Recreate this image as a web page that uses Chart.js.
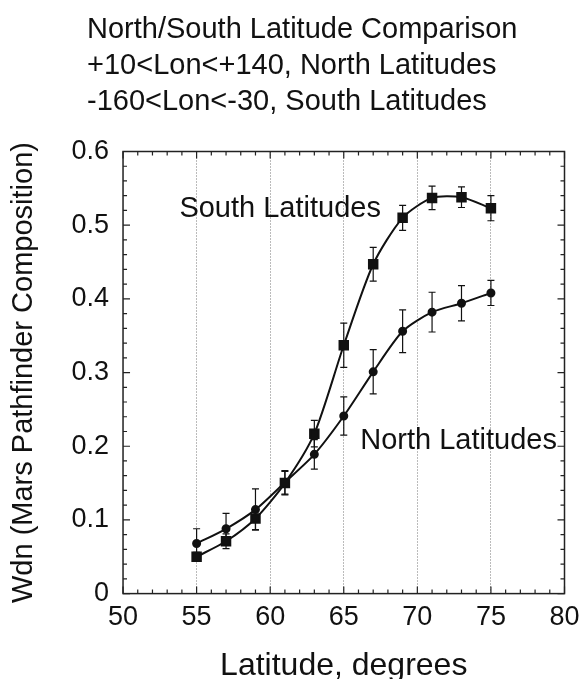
<!DOCTYPE html>
<html>
<head>
<meta charset="utf-8">
<script src="https://cdn.jsdelivr.net/npm/chart.js@4.4.1/dist/chart.umd.min.js"></script>
<style>
  html, body { margin: 0; padding: 0; background: #fff; }
  #wrap { width: 585px; height: 679px; }
</style>
</head>
<body>
<div id="wrap"><canvas id="myChart1"></canvas></div>
<script>
// latitude (degrees) of each bin
const latitudes = [55, 57, 59, 61, 63, 65, 67, 69, 71, 73, 75];
// Wdn for the south latitude set (-160<Lon<-30) and its error
const south = [0.050, 0.071, 0.102, 0.150, 0.217, 0.337, 0.447, 0.510, 0.537, 0.538, 0.523];
const southErr = [0.006, 0.010, 0.015, 0.016, 0.018, 0.030, 0.023, 0.017, 0.016, 0.014, 0.017];
// Wdn for the north latitude set (+10<Lon<+140) and its error
const north = [0.068, 0.088, 0.114, 0.151, 0.189, 0.241, 0.301, 0.356, 0.382, 0.394, 0.408];
const northErr = [0.020, 0.021, 0.028, 0.016, 0.020, 0.026, 0.030, 0.029, 0.027, 0.024, 0.017];

const titleLines = [
    'North/South Latitude Comparison',
    '+10<Lon<+140, North Latitudes',
    '-160<Lon<-30, South Latitudes'
];
const xLabel = 'Latitude, degrees';
const yLabel = 'Wdn (Mars Pathfinder Composition)';
const seriesNames = ['South Latitudes', 'North Latitudes'];

const FONT = "'Liberation Sans', Arial, sans-serif";

// title drawn in the top margin, left aligned
const titlePlugin = {
    id: 'leftTitle',
    afterDraw(chart) {
        const ctx = chart.ctx;
        ctx.save();
        ctx.fillStyle = '#111';
        ctx.font = '29px ' + FONT;
        ctx.textAlign = 'left';
        ctx.textBaseline = 'alphabetic';
        titleLines.forEach((t, i) => ctx.fillText(t, 87, 38 + i * 36));
        ctx.restore();
    }
};

// vertical error bars with small caps
const errorBarPlugin = {
    id: 'errorBars',
    beforeDatasetsDraw(chart) {
        const ctx = chart.ctx;
        const xs = chart.scales.x, ys = chart.scales.y;
        ctx.save();
        ctx.strokeStyle = '#111';
        ctx.lineWidth = 1.2;
        chart.data.datasets.forEach(ds => {
            if (!ds.errorBars) return;
            ds.data.forEach((p, i) => {
                const e = ds.errorBars[i];
                const x = xs.getPixelForValue(p.x);
                const y1 = ys.getPixelForValue(p.y - e);
                const y2 = ys.getPixelForValue(p.y + e);
                ctx.beginPath();
                ctx.moveTo(x, y1); ctx.lineTo(x, y2);
                ctx.moveTo(x - 3.5, y1); ctx.lineTo(x + 3.5, y1);
                ctx.moveTo(x - 3.5, y2); ctx.lineTo(x + 3.5, y2);
                ctx.stroke();
            });
        });
        ctx.restore();
    }
};

// box frame with inward major/minor ticks, plus the curve labels
const framePlugin = {
    id: 'frame',
    afterDraw(chart) {
        const ctx = chart.ctx;
        const xs = chart.scales.x, ys = chart.scales.y;
        const a = chart.chartArea;
        ctx.save();
        ctx.strokeStyle = '#222';
        ctx.lineWidth = 1.5;
        ctx.strokeRect(a.left, a.top, a.right - a.left, a.bottom - a.top);
        ctx.lineWidth = 1.2;
        ctx.beginPath();
        for (let v = xs.min; v <= xs.max; v += 1) {
            const len = v % 5 === 0 ? 7 : 4;
            const x = xs.getPixelForValue(v);
            ctx.moveTo(x, a.bottom); ctx.lineTo(x, a.bottom - len);
            ctx.moveTo(x, a.top); ctx.lineTo(x, a.top + len);
        }
        for (let k = 0; k <= 30; k++) {
            const len = k % 5 === 0 ? 7 : 4;
            const y = ys.getPixelForValue(k * 0.02);
            ctx.moveTo(a.left, y); ctx.lineTo(a.left + len, y);
            ctx.moveTo(a.right, y); ctx.lineTo(a.right - len, y);
        }
        ctx.stroke();

        ctx.fillStyle = '#111';
        ctx.font = '29px ' + FONT;
        ctx.textAlign = 'left';
        ctx.textBaseline = 'middle';
        ctx.fillText(seriesNames[0], xs.getPixelForValue(53.83), ys.getPixelForValue(0.522));
        ctx.fillText(seriesNames[1], xs.getPixelForValue(66.12), ys.getPixelForValue(0.207));
        ctx.restore();
    }
};

const ctx = document.getElementById('myChart1').getContext('2d');
const chart = new Chart(ctx, {
    type: 'line',
    data: {
        datasets: [{
            label: seriesNames[0],
            data: latitudes.map((x, i) => ({x: x, y: south[i]})),
            errorBars: southErr,
            borderColor: '#111',
            backgroundColor: '#111',
            borderWidth: 2,
            pointStyle: 'rect',
            pointRadius: 6,
            tension: 0.25,
            fill: false
        },
        {
            label: seriesNames[1],
            data: latitudes.map((x, i) => ({x: x, y: north[i]})),
            errorBars: northErr,
            borderColor: '#111',
            backgroundColor: '#111',
            borderWidth: 2,
            pointStyle: 'circle',
            pointRadius: 3.5,
            tension: 0.25,
            fill: false
        }]
    },
    options: {
        responsive: true,
        maintainAspectRatio: false,
        animation: false,
        layout: { padding: { top: 151.5, left: 9.5, right: 20.5, bottom: -3 } },
        plugins: {
            legend: { display: false },
            tooltip: { enabled: false },
            title: { display: false }
        },
        scales: {
            x: {
                type: 'linear',
                min: 50,
                max: 80,
                // let the "80" label hang into the right margin
                afterFit: s => { s.paddingRight = 0; },
                ticks: {
                    stepSize: 5,
                    padding: 8,
                    color: '#111',
                    font: { family: FONT, size: 27 }
                },
                grid: {
                    drawTicks: false,
                    lineWidth: 1,
                    color: c => (c.tick && c.tick.value > 50 && c.tick.value < 80) ? '#777' : 'rgba(0,0,0,0)'
                },
                border: { display: false, dash: [1, 2] },
                title: {
                    display: true,
                    text: xLabel,
                    color: '#111',
                    padding: { top: 8, bottom: 0 },
                    font: { family: FONT, size: 32, lineHeight: 1 }
                }
            },
            y: {
                min: 0,
                max: 0.6,
                ticks: {
                    stepSize: 0.1,
                    padding: 14,
                    color: '#111',
                    font: { family: FONT, size: 27 },
                    callback: v => String(Number(v.toFixed(1)))
                },
                grid: { display: false, drawTicks: false },
                border: { display: false },
                title: {
                    display: true,
                    text: yLabel,
                    color: '#111',
                    padding: { top: 0, bottom: 19 },
                    font: { family: FONT, size: 29, lineHeight: 1 }
                }
            }
        }
    },
    plugins: [titlePlugin, errorBarPlugin, framePlugin]
});
</script>
</body>
</html>
